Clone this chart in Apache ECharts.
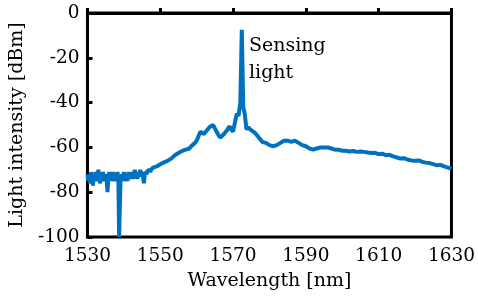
<!DOCTYPE html>
<html>
<head>
<meta charset="UTF-8">
<title>Spectrum</title>
<style>
  html, body { margin: 0; padding: 0; background: #fff; }
  #chart { width: 478px; height: 296px; }
</style>
</head>
<body>
<div id="chart"></div>
<script src="https://cdn.jsdelivr.net/npm/echarts@6/dist/echarts.min.js"></script>
<script>
// wavelength [nm] and light intensity [dBm]
var wavelength = [
  1530, 1530.25, 1530.5, 1530.75, 1531, 1531.25, 1531.5, 1531.75,
  1532, 1532.25, 1532.5, 1532.75, 1533, 1533.25, 1533.5, 1533.75,
  1534, 1534.25, 1534.5, 1534.75, 1535, 1535.25, 1535.5, 1535.75,
  1536, 1536.25, 1536.5, 1536.75, 1537, 1537.25, 1537.5, 1537.75,
  1538, 1538.25, 1538.5, 1538.7, 1538.9, 1539.1, 1539.25, 1539.5, 1539.75,
  1540, 1540.25, 1540.5, 1540.75, 1541, 1541.25, 1541.5, 1541.75,
  1542, 1542.25, 1542.5, 1542.75, 1543, 1543.25, 1543.5, 1543.75,
  1544, 1544.25, 1544.5, 1544.75, 1545, 1545.25, 1545.5, 1545.75,
  1546, 1546.25, 1546.5, 1546.75, 1547, 1547.25, 1547.5, 1547.75,
  1548, 1548.5, 1549, 1549.5, 1550, 1550.5, 1551, 1551.5,
  1552, 1552.5, 1553, 1553.5, 1554, 1554.5, 1555, 1555.5,
  1556, 1556.5, 1557, 1557.5, 1558, 1558.5, 1559, 1559.5,
  1560, 1560.5, 1561, 1561.5, 1562, 1562.5, 1563, 1563.5, 1564, 1564.5,
  1565, 1565.5, 1566, 1566.5, 1567, 1567.5, 1568, 1568.5, 1569, 1569.5,
  1570, 1570.5, 1571, 1571.5, 1572, 1572.4, 1572.8, 1573.2, 1573.7, 1574.2,
  1574.7, 1575.2, 1576, 1576.5, 1577, 1577.5, 1578, 1579, 1580, 1581,
  1582, 1583, 1584, 1585, 1586, 1587, 1588, 1589, 1590, 1591,
  1592, 1593, 1594, 1595, 1596, 1597, 1598, 1599, 1600, 1601,
  1602, 1603, 1604, 1605, 1606, 1607, 1608, 1609, 1610, 1611,
  1612, 1613, 1614, 1615, 1616, 1617, 1618, 1619, 1620, 1621,
  1622, 1623, 1624, 1625, 1626, 1627, 1628, 1629, 1630
];
var intensity = [
  -72, -75, -73, -76, -71, -74, -77, -72,
  -74, -71, -75, -73, -70, -74, -76, -72,
  -74, -71, -75, -73, -72, -74, -80, -73,
  -71, -74, -72, -75, -71, -73, -75, -72,
  -74, -71, -74, -100, -100, -73, -75, -72, -74,
  -71, -75, -73, -72, -75, -71, -74, -72,
  -73, -71, -74, -72, -70, -73, -72, -74,
  -71, -73, -70, -72, -71, -73, -76, -72,
  -71, -72, -70, -71, -69.5, -71, -70, -70.5,
  -69, -69.5, -68.5, -68.8, -67.5, -67.8, -66.7, -67,
  -66, -65.5, -65, -64.5, -63.5, -63.8, -62.5, -62.8,
  -61.6, -61.8, -61, -60.8, -60.5, -59.5, -58.7, -58,
  -57, -55, -53, -53.5, -54, -53, -52.5, -51, -50.5, -50,
  -51.5, -53, -54.5, -55.6, -55, -54, -53, -52, -50.5, -52,
  -53, -52.5, -45, -46, -40, -7.5, -42, -45, -52, -51,
  -52, -51.5, -53.5, -54.5, -55, -56.5, -57.5, -58, -59, -59.5,
  -59, -58, -57, -57, -57.5, -57, -58, -59, -59.5, -60.5,
  -61, -60.5, -60, -60, -60, -60.5, -61, -61, -61.5, -61.5,
  -61.8, -61.6, -62, -61.8, -62, -62.3, -62.5, -62.4, -63, -62.8,
  -63.5, -63.3, -64, -64.5, -65, -64.8, -65.5, -65.8, -66, -65.8,
  -66.5, -66.8, -67, -67.5, -68, -67.8, -68.5, -69, -69.5
];
var xTicks = [1530, 1630, 20];
var yTicks = [-100, 0, 20];

var points = [];
for (var i = 0; i < wavelength.length; i++) {
  points.push([wavelength[i], intensity[i]]);
}

var font = 'DejaVu Serif';
var chart = echarts.init(document.getElementById('chart'));

option = {
  animation: false,
  grid: {
    left: 81, right: 22, top: 13, bottom: 58,
    show: true,
    borderColor: '#000',
    borderWidth: 3,
    backgroundColor: 'transparent'
  },
  xAxis: {
    type: 'value',
    min: xTicks[0], max: xTicks[1], interval: xTicks[2],
    name: 'Wavelength [nm]',
    nameLocation: 'middle',
    nameGap: 35,
    nameTextStyle: { fontFamily: font, fontSize: 19, color: '#000' },
    axisLine: { lineStyle: { color: '#000', width: 3 } },
    axisTick: { inside: true, length: 5, lineStyle: { color: '#000', width: 3 } },
    axisLabel: {
      fontFamily: font, fontSize: 18.5, color: '#000', margin: 10,
      formatter: function (v) { return String(v); }
    },
    splitLine: { show: false }
  },
  yAxis: {
    type: 'value',
    min: yTicks[0], max: yTicks[1], interval: yTicks[2],
    name: 'Light intensity [dBm]',
    nameLocation: 'middle',
    nameGap: 48,
    nameTextStyle: { fontFamily: font, fontSize: 19, color: '#000' },
    axisLine: { lineStyle: { color: '#000', width: 3 } },
    axisTick: { inside: true, length: 5, lineStyle: { color: '#000', width: 3 } },
    axisLabel: { fontFamily: font, fontSize: 18.5, color: '#000', margin: 8 },
    splitLine: { show: false }
  },
  graphic: [{
    type: 'text',
    left: 249,
    top: 33,
    style: {
      text: 'Sensing\nlight',
      fontFamily: font,
      fontSize: 19,
      lineHeight: 27,
      fill: '#000'
    }
  }],
  series: [{
    type: 'line',
    data: points,
    showSymbol: false,
    lineStyle: { color: '#0070C0', width: 4 },
    clip: true
  }]
};

chart.setOption(option);
</script>
</body>
</html>
